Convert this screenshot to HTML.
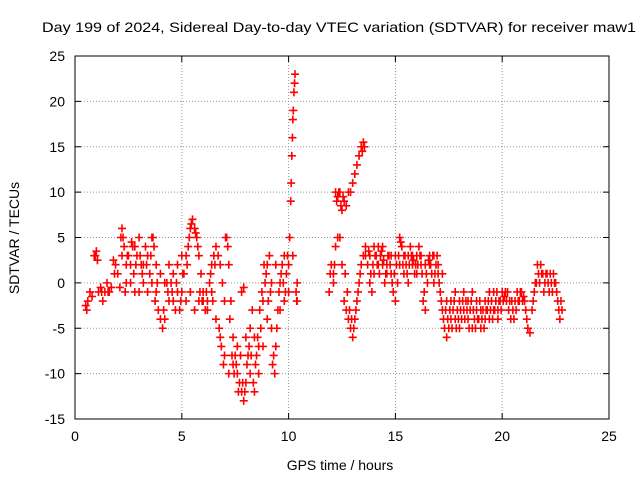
<!DOCTYPE html>
<html><head><meta charset="utf-8"><style>
body{margin:0;background:#fff}
svg text{font-family:"Liberation Sans",sans-serif;font-size:14px;fill:#000}
</style></head><body>
<svg id="chart" width="640" height="480" xmlns="http://www.w3.org/2000/svg">
<text x="42" y="32" textLength="594" lengthAdjust="spacingAndGlyphs">Day 199 of 2024, Sidereal Day-to-day VTEC variation (SDTVAR) for receiver maw1</text>
<text x="340" y="470" text-anchor="middle">GPS time / hours</text>
<text transform="translate(19,238) rotate(-90)" text-anchor="middle">SDTVAR / TECUs</text>
<g id="grid"></g>
<g id="ticks"></g>
<g id="marks"></g>
<rect x="75" y="56" width="534" height="363" fill="none" stroke="#000" stroke-width="1"/>
</svg>
<script>
const xTicks=[0,5,10,15,20,25];
const yTicks=[-15,-10,-5,0,5,10,15,20,25];
const trackA=[[0.5,-2.5],[0.55,-3],[0.7,-1],[0.8,-1.5],[0.9,3],[1.0,3.5],[1.05,2.5],[1.1,-1],[1.2,-0.5],[1.3,-2],[1.4,-1],[1.5,0],[1.6,-1],[1.7,-0.5],[1.8,2.5],[1.9,2],[2.0,1],[2.1,-0.5],[2.2,6],[2.25,5],[2.3,4],[2.35,-1],[2.4,0],[2.5,3],[2.6,2],[2.7,4],[2.75,1],[2.8,-1],[2.9,3],[3.0,5],[3.1,2],[3.2,0],[3.3,4],[3.4,3],[3.5,1],[3.6,5],[3.7,4],[3.75,-2],[3.8,-1],[3.9,-3],[4.0,-4],[4.1,-5],[4.2,-4],[4.3,0],[4.4,2],[4.5,0],[4.6,-2],[4.7,-3],[4.8,-1],[4.9,-3],[5.0,-1],[5.1,1],[5.2,3],[5.3,4],[5.4,6],[5.5,7],[5.6,6],[5.7,5],[5.8,3],[5.9,1],[6.0,-2],[6.1,-3],[6.2,-2],[6.3,0],[6.4,2],[6.5,3],[6.6,4],[6.7,3],[6.8,2],[6.9,0],[7.0,-2],[7.1,5],[7.15,4],[7.2,2],[7.3,-2],[7.4,-6],[7.5,-8],[7.6,-10],[7.7,-11],[7.8,-12],[7.9,-13],[8.0,-11],[8.1,-8],[8.2,-5],[8.3,-3],[8.4,-6],[8.5,-8],[8.6,-7],[8.7,-5],[8.8,-2],[8.9,0],[9.0,2],[9.1,3],[9.2,-5],[9.3,-8],[9.35,-10],[9.4,-7],[9.5,-3],[9.6,0],[9.7,2],[9.8,3],[9.9,1],[10.0,2],[10.05,5],[10.1,9],[10.15,14],[10.2,18],[10.25,21],[10.3,23],[10.35,-1],[10.4,0]];
const trackB=[[2.2,3],[2.4,2],[2.6,0],[2.8,4],[3.0,-1],[3.2,2],[3.4,-1],[3.6,0],[3.8,2],[4.0,1],[4.2,0],[4.4,-2],[4.6,1],[4.8,2],[5.0,3],[5.2,-2],[5.4,-1],[5.6,-3],[5.8,-2],[6.0,-1],[6.2,-3],[6.4,-1],[6.6,-4],[6.8,-6],[7.0,-8],[7.2,-10],[7.4,-9],[7.6,-7],[7.8,-1],[7.9,-0.5],[8.0,-6],[8.2,-10],[8.4,-12],[8.6,-10],[8.8,-7],[9.0,-4],[9.2,0],[9.4,2],[9.6,-3],[9.8,-2],[10.0,-1],[10.2,3],[10.4,-2]];
const trackC=[[11.9,-1],[11.95,1],[12.0,2],[12.1,0],[12.2,10],[12.3,9.5],[12.4,10],[12.5,8],[12.6,9],[12.7,8.5],[12.8,10],[12.9,10],[13.0,11],[13.1,12],[13.2,13],[13.3,14],[13.4,15],[13.5,15.5],[13.55,15]];
const trackD=[[12.1,1],[12.2,4],[12.3,5],[12.4,5],[12.5,2],[12.6,-2],[12.7,-3],[12.8,-4],[12.9,-5],[13.0,-6],[13.1,-4],[13.2,-2],[13.3,0],[13.4,2],[13.5,3],[13.6,4],[13.7,2],[13.8,0],[13.9,-1],[14.0,1],[14.1,3],[14.2,4],[14.3,3],[14.4,2],[14.5,0],[14.6,2],[14.7,3],[14.8,1],[14.9,-1],[15.0,-2],[15.1,0],[15.2,2],[15.3,4],[15.4,3],[15.5,2],[15.6,3],[15.7,4],[15.8,2],[15.9,1],[16.0,3],[16.1,4],[16.2,2],[16.3,-2],[16.4,-3],[16.5,0],[16.6,2],[16.7,1],[16.8,3],[16.9,2],[17.0,1],[17.1,-1],[17.2,-3],[17.3,-5],[17.4,-6],[17.5,-5],[17.6,-4],[17.7,-3],[17.8,-4],[17.9,-3],[18.0,-5],[18.1,-4],[18.2,-3],[18.3,-2],[18.4,-4],[18.5,-3],[18.6,-5],[18.7,-4],[18.8,-3],[18.9,-4],[19.0,-5],[19.1,-3],[19.2,-2],[19.3,-3],[19.4,-4],[19.5,-2],[19.6,-1],[19.7,-2],[19.8,-3],[19.9,-2],[20.0,-1],[20.1,-1.5],[20.2,-2],[20.3,-3],[20.4,-4],[20.5,-3],[20.6,-2],[20.7,-1],[20.8,-2],[20.9,-1],[21.0,-1.5],[21.1,-3],[21.2,-5],[21.3,-5.5],[21.4,-3],[21.5,-1],[21.6,0],[21.7,1],[21.8,2],[21.9,1],[22.0,0],[22.1,1],[22.2,-1],[22.3,0],[22.4,1],[22.5,0],[22.6,-2],[22.7,-4],[22.8,-3]];
const trackE=[[13.8,3],[14.0,4],[14.2,2],[14.4,4],[14.6,1],[14.8,3],[15.0,3],[15.2,5],[15.4,1],[15.6,0],[15.8,3],[16.0,1],[16.2,3],[16.4,2],[16.6,3],[16.8,0],[17.0,2],[17.2,1],[17.4,-2],[17.6,-2],[17.8,-1],[18.0,-2],[18.2,-1],[18.4,-2],[18.6,-1],[18.8,-2],[19.0,-3],[19.2,-4],[19.4,-1],[19.6,-3],[19.8,-4]];
const trackF=[[0.6,-2],[0.95,3],[1.25,-1],[1.55,-1],[1.85,1],[2.15,5],[2.45,3],[2.65,4.5],[2.85,2],[3.05,3],[3.15,1],[3.35,2],[3.55,3],[3.65,5],[3.85,0],[4.15,-3],[4.35,-1],[4.55,-1],[4.75,0],[4.95,-2],[5.05,1],[5.25,2],[5.35,5],[5.45,6.5],[5.65,5.5],[5.75,4],[5.85,-1],[5.95,-2],[6.15,-1],[6.35,1],[6.45,-2],[6.55,2],[6.75,-5],[6.85,-7],[6.95,-9],[7.05,5],[7.25,-4],[7.35,-8],[7.45,-10],[7.55,-9],[7.65,-12],[7.75,-8],[7.85,-11],[7.95,-12],[8.05,-9],[8.15,-7],[8.25,-8],[8.35,-11],[8.45,-9],[8.55,-6],[8.65,-3],[8.75,-1],[8.85,2],[8.95,1],[9.05,-2],[9.15,-1],[9.25,-9],[9.45,-5],[9.55,-1],[9.65,1],[9.75,0],[9.85,-1],[9.95,3],[10.12,11],[10.18,16],[10.22,19],[10.28,22],[10.38,-2],[12.15,2],[12.25,9],[12.35,10],[12.45,8.5],[12.55,9.5],[12.65,1],[12.75,-1],[12.85,-3],[12.95,-4],[13.05,-5],[13.15,-3],[13.25,-1],[13.35,1],[13.45,14.5],[13.6,3],[13.75,3.5],[13.85,1],[13.95,2],[14.05,3],[14.15,2],[14.25,1],[14.35,3.5],[14.45,2.5],[14.55,1],[14.65,3],[14.75,2],[14.85,0],[14.95,1],[15.05,2],[15.15,3],[15.25,4.5],[15.35,2],[15.45,3],[15.55,1],[15.65,2],[15.75,3],[15.85,2.5],[15.95,2],[16.05,2],[16.15,3],[16.25,1],[16.35,-1],[16.45,1],[16.55,2.5],[16.65,2],[16.75,3],[16.85,1],[16.95,3],[17.05,0],[17.15,-2],[17.25,-4],[17.35,-3],[17.45,-4],[17.55,-3],[17.65,-5],[17.75,-2],[17.85,-5],[17.95,-4],[18.05,-3],[18.15,-2],[18.25,-4],[18.35,-3],[18.45,-5],[18.55,-2],[18.65,-3],[18.75,-5],[18.85,-4],[18.95,-2],[19.05,-4],[19.15,-5],[19.25,-3],[19.35,-2],[19.45,-3],[19.55,-4],[19.65,-3],[19.75,-1],[19.85,-2],[19.95,-3],[20.05,-2],[20.15,-1],[20.25,-1],[20.35,-2],[20.45,-2],[20.55,-4],[20.65,-3],[20.75,-2],[20.85,-1],[20.95,-2],[21.05,-2],[21.15,-4],[21.45,-2],[21.55,0],[21.65,2],[21.75,0],[21.85,1],[21.95,-1],[22.05,1],[22.15,0],[22.25,1],[22.35,-1],[22.45,0],[22.55,-1],[22.65,-3],[22.75,-2]];

const X0=75,X1=609,Y0=419,Y1=56;
function sx(t){return X0+(t-0)/(25-0)*(X1-X0);}
function sy(v){return Y0-(v+15)/(25+15)*(Y0-Y1);}
const NS='http://www.w3.org/2000/svg';
const grid=document.getElementById('grid'),ticks=document.getElementById('ticks'),marks=document.getElementById('marks');
function mk(tag,attrs,parent){const e=document.createElementNS(NS,tag);for(const k in attrs)e.setAttribute(k,attrs[k]);parent.appendChild(e);return e;}
xTicks.forEach(t=>{
  const x=sx(t);
  if(t>0&&t<25){const g=mk('line',{x1:x,x2:x,y1:Y1,y2:Y0,stroke:'#999','stroke-dasharray':'1,2'},grid);
  
  }
  mk('line',{x1:x,x2:x,y1:Y0,y2:Y0-6,stroke:'#000'},ticks);
  mk('line',{x1:x,x2:x,y1:Y1,y2:Y1+6,stroke:'#000'},ticks);
  const l=mk('text',{x:x,y:Y0+22,'text-anchor':'middle'},ticks);l.textContent=t;
  
  
});
yTicks.forEach(v=>{
  const y=sy(v);
  if(v>-15&&v<25){const g=mk('line',{x1:X0,x2:X1,y1:y,y2:y,stroke:'#999','stroke-dasharray':'1,2'},grid);
  
  }
  mk('line',{x1:X0,x2:X0+6,y1:y,y2:y,stroke:'#000'},ticks);
  mk('line',{x1:X1,x2:X1-6,y1:y,y2:y,stroke:'#000'},ticks);
  const l=mk('text',{x:X0-10,y:y+5,'text-anchor':'end'},ticks);l.textContent=v;
  
  
});
let d='';
[trackA,trackB,trackC,trackD,trackE,trackF].forEach(tr=>tr.forEach(p=>{
  const x=sx(p[0]),y=sy(p[1]);
  d+=`M${x-4},${y}h8M${x},${y-4}v8`;
}));
const path=mk('path',{d:d,stroke:'#f00','stroke-width':'1.6',fill:'none'},marks);


</script>
</body></html>
